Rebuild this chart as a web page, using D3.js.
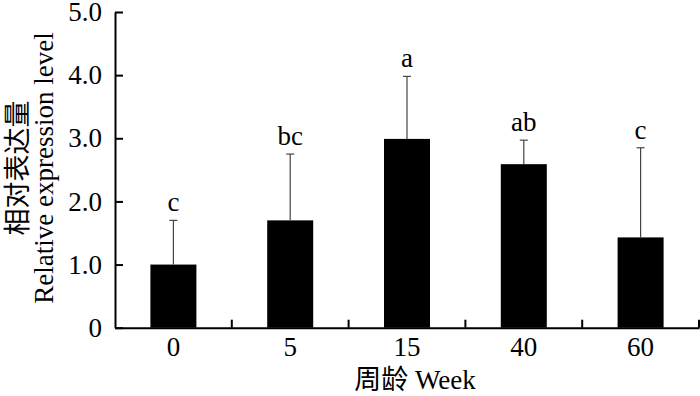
<!DOCTYPE html>
<html><head><meta charset="utf-8">
<script src="https://cdn.jsdelivr.net/npm/d3@7"></script>
<style>
body{margin:0;background:#fff;}
text{font-family:"Liberation Serif","Times New Roman","Noto Sans CJK SC",serif;fill:#000;}
</style></head>
<body><svg id="c" width="700" height="396"></svg>
<script>
const categories = ["0","5","15","40","60"];
const values = [1.00, 1.70, 2.99, 2.59, 1.43];
const errors = [0.70, 1.05, 0.99, 0.38, 1.42];
const letters = ["c","bc","a","ab","c"];
const yTicks = [0,1,2,3,4,5];
const yTickLabels = ["0","1.0","2.0","3.0","4.0","5.0"];

const svg = d3.select("#c");
const L = 115, R = 699, T = 12, B = 327.7;
const FS = 27;
const x = d3.scaleBand().domain(categories).range([L, R]).padding(0);
const y = d3.scaleLinear().domain([0,5]).range([B, T]);
const bw = 46;

// bars
svg.append("g").selectAll("rect").data(categories).join("rect")
  .attr("x", d => x(d) + x.bandwidth()/2 - bw/2)
  .attr("width", bw)
  .attr("y", (d,i) => y(values[i]))
  .attr("height", (d,i) => y(0) - y(values[i]))
  .attr("fill", "#000");

// error bars
const eg = svg.append("g").attr("stroke", "#444").attr("stroke-width", 1.2);
categories.forEach((d,i) => {
  const cx = x(d) + x.bandwidth()/2;
  eg.append("line").attr("x1", cx).attr("x2", cx)
    .attr("y1", y(values[i])).attr("y2", y(values[i] + errors[i]));
  eg.append("line").attr("x1", cx - 4).attr("x2", cx + 4)
    .attr("y1", y(values[i] + errors[i])).attr("y2", y(values[i] + errors[i]));
  svg.append("text").attr("x", cx).attr("y", y(values[i] + errors[i]) - 9)
    .attr("text-anchor", "middle").attr("font-size", FS).text(letters[i]);
});

// y axis
const ya = svg.append("g").attr("transform", `translate(${L},0)`)
  .call(d3.axisLeft(y).tickValues(yTicks).tickFormat((d,i) => yTickLabels[i])
    .tickSize(-8).tickSizeOuter(0).tickPadding(13));
ya.selectAll("path,line").attr("stroke", "#000").attr("stroke-width", 2);
ya.selectAll("text").attr("font-size", FS).attr("font-family", "Liberation Serif");

// x axis
const xa = svg.append("g").attr("transform", `translate(0,${B})`)
  .call(d3.axisBottom(x).tickSize(0).tickSizeOuter(0).tickPadding(9));
xa.select("path").attr("stroke", "#000").attr("stroke-width", 2);
xa.selectAll("text").attr("font-size", FS).attr("font-family", "Liberation Serif").attr("dy", "0.71em");
// boundary ticks (inward)
const bounds = categories.slice(1).map(d => x(d)).concat([R]);
svg.append("g").selectAll("line").data(bounds).join("line")
  .attr("x1", d => d).attr("x2", d => d).attr("y1", B).attr("y2", B - 8)
  .attr("stroke", "#000").attr("stroke-width", 2);

// axis titles
svg.append("text").attr("transform", "translate(27,168) rotate(-90)")
  .attr("text-anchor", "middle").attr("font-size", FS).text("相对表达量");
svg.append("text").attr("transform", "translate(53,168) rotate(-90)")
  .attr("text-anchor", "middle").attr("font-size", FS).text("Relative expression level");
svg.append("text").attr("x", 415).attr("y", 389).attr("text-anchor", "middle")
  .attr("font-size", FS).text("周龄 Week");
</script></body></html>
